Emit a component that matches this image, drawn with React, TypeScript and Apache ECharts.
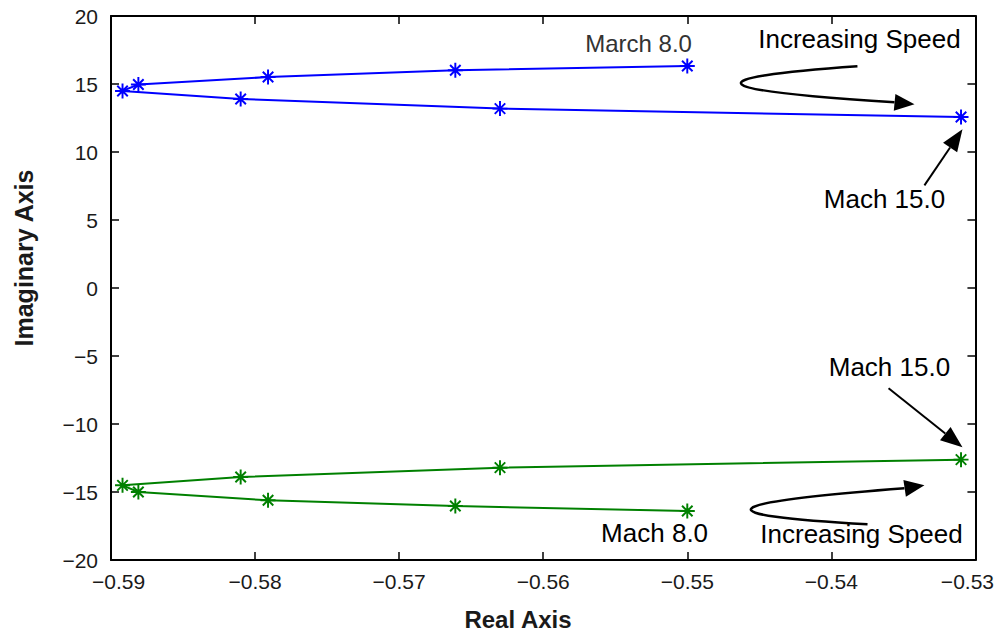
import React, { useEffect, useRef } from "react";
import * as echarts from "echarts";

const FONT = '"Liberation Sans", Arial, Helvetica, sans-serif';

// Axis ranges / ticks
const X_MIN = -0.59;
const X_MAX = -0.53;
const X_STEP = 0.01;
const Y_MIN = -20;
const Y_MAX = 20;
const Y_STEP = 5;

// Root locus branches (real, imaginary), ordered Mach 8 -> Mach 15 (blue) and Mach 15 -> Mach 8 (green)
const blueReal = [-0.55, -0.5661, -0.5791, -0.5881, -0.5892, -0.581, -0.563, -0.531];
const blueImag = [16.32, 16.01, 15.51, 14.96, 14.49, 13.9, 13.19, 12.57];
const greenReal = [-0.531, -0.563, -0.581, -0.5892, -0.5881, -0.5791, -0.5661, -0.55];
const greenImag = [-12.62, -13.21, -13.9, -14.51, -15.0, -15.61, -16.03, -16.4];

// Annotation texts (data coordinates of their centres)
const annTexts: { text: string; at: [number, number]; size: number; color: string }[] = [
  { text: "March 8.0", at: [-0.55338, 17.95], size: 24, color: "#333333" },
  { text: "Increasing Speed", at: [-0.53805, 18.3], size: 26, color: "#000000" },
  { text: "Mach 15.0", at: [-0.53631, 6.55], size: 26, color: "#000000" },
  { text: "Mach 15.0", at: [-0.53597, -5.8], size: 26, color: "#000000" },
  { text: "Mach 8.0", at: [-0.55227, -18.0], size: 26, color: "#000000" },
  { text: "Increasing Speed", at: [-0.53791, -18.08], size: 26, color: "#000000" },
];

// Straight arrows: tail -> tip (data coordinates)
const straightArrows: { tail: [number, number]; tip: [number, number] }[] = [
  { tail: [-0.53354, 7.55], tip: [-0.5309, 11.67] },
  { tail: [-0.53603, -7.37], tip: [-0.5309, -11.71] },
];

// Curved arrows: start, leftmost turn, shaft end, tip (data coordinates)
const curvedArrows: { start: [number, number]; turn: [number, number]; end: [number, number]; tip: [number, number] }[] = [
  { start: [-0.53819, 16.3], turn: [-0.54623, 14.98], end: [-0.53562, 13.65], tip: [-0.53423, 13.51] },
  { start: [-0.53749, -17.38], turn: [-0.54554, -16.2], end: [-0.53493, -14.73], tip: [-0.53354, -14.51] },
];

const STAR =
  "path://M43.5 0L56.5 0L56.5 100L43.5 100Z M0 43.5L100 43.5L100 56.5L0 56.5Z " +
  "M10.4 19.6L19.6 10.4L89.6 80.4L80.4 89.6Z M80.4 10.4L89.6 19.6L19.6 89.6L10.4 80.4Z";

const signed = (v: number, d: number) => (v < -1e-12 ? "\u2212" : "") + Math.abs(v).toFixed(d);

export default function App() {
  const ref = useRef<HTMLDivElement>(null);

  useEffect(() => {
    if (!ref.current) return;
    const chart = echarts.init(ref.current, null, { renderer: "svg" });
    const labelStyle = { fontSize: 21, fontFamily: FONT, color: "#1a1a1a" };
    const axisCommon = {
      axisLine: { show: true, onZero: false, lineStyle: { color: "#000", width: 2 } },
      axisTick: { show: true, inside: true, length: 8, lineStyle: { color: "#000", width: 1.5 } },
      splitLine: { show: false },
    };
    const option: any = {
      animation: false,
      backgroundColor: "#ffffff",
      grid: { left: 111, right: 21, top: 16, bottom: 73, containLabel: false },
      xAxis: [
        {
          type: "value",
          min: X_MIN,
          max: X_MAX,
          interval: X_STEP,
          position: "bottom",
          ...axisCommon,
          axisLabel: {
            ...labelStyle,
            margin: 11,
            showMinLabel: true,
            showMaxLabel: true,
            formatter: (v: number) => {
              const s = signed(v, 2);
              if (Math.abs(v - X_MIN) < 1e-9) return `{l|${s}}`;
              if (Math.abs(v - X_MAX) < 1e-9) return `{r|${s}}`;
              return s;
            },
            rich: {
              l: { ...labelStyle, padding: [0, 0, 0, 15] },
              r: { ...labelStyle, padding: [0, 16, 0, 0] },
            },
          },
        },
        {
          type: "value",
          min: X_MIN,
          max: X_MAX,
          interval: X_STEP,
          position: "top",
          ...axisCommon,
          axisLabel: { show: false },
        },
      ],
      yAxis: [
        {
          type: "value",
          min: Y_MIN,
          max: Y_MAX,
          interval: Y_STEP,
          position: "left",
          ...axisCommon,
          axisLabel: { ...labelStyle, margin: 13, formatter: (v: number) => signed(v, 0) },
        },
        {
          type: "value",
          min: Y_MIN,
          max: Y_MAX,
          interval: Y_STEP,
          position: "right",
          ...axisCommon,
          axisLabel: { show: false },
        },
      ],
      series: [
        {
          type: "line",
          data: blueReal.map((x, i) => [x, blueImag[i]]),
          lineStyle: { color: "#0000ff", width: 2 },
          itemStyle: { color: "#0000ff" },
          symbol: STAR,
          symbolSize: 15,
          showAllSymbol: true,
          clip: false,
          z: 3,
        },
        {
          type: "line",
          data: greenReal.map((x, i) => [x, greenImag[i]]),
          lineStyle: { color: "#008000", width: 2 },
          itemStyle: { color: "#008000" },
          symbol: STAR,
          symbolSize: 15,
          showAllSymbol: true,
          clip: false,
          z: 3,
        },
      ],
    };
    chart.setOption(option);

    const P = (p: [number, number]) => chart.convertToPixel({ seriesIndex: 0 }, p) as number[];
    const els: any[] = [];

    const head = (from: number[], tip: number[], len: number, hw: number) => {
      const dx = tip[0] - from[0];
      const dy = tip[1] - from[1];
      const n = Math.hypot(dx, dy) || 1;
      const ux = dx / n;
      const uy = dy / n;
      const bx = tip[0] - ux * len;
      const by = tip[1] - uy * len;
      const px = -uy;
      const py = ux;
      return {
        base: [bx, by],
        points: [
          [tip[0], tip[1]],
          [bx + px * hw, by + py * hw],
          [bx - px * hw, by - py * hw],
        ],
      };
    };

    straightArrows.forEach((a) => {
      const t0 = P(a.tail);
      const t1 = P(a.tip);
      const h = head(t0, t1, 22, 8.5);
      els.push({
        type: "line",
        shape: { x1: t0[0], y1: t0[1], x2: h.base[0], y2: h.base[1] },
        style: { stroke: "#000", lineWidth: 2 },
        z: 10,
      });
      els.push({ type: "polygon", shape: { points: h.points }, style: { fill: "#000" }, z: 10 });
    });

    curvedArrows.forEach((a) => {
      const s = P(a.start);
      const l = P(a.turn);
      const e = P(a.end);
      const t = P(a.tip);
      const cx = 2 * l[0] - 0.5 * (s[0] + e[0]);
      const cy = 2 * l[1] - 0.5 * (s[1] + e[1]);
      els.push({
        type: "bezierCurve",
        shape: { x1: s[0], y1: s[1], cpx1: cx, cpy1: cy, x2: e[0], y2: e[1] },
        style: { stroke: "#000", lineWidth: 2.5, fill: null },
        z: 10,
      });
      const h2 = head([2 * e[0] - t[0], 2 * e[1] - t[1]], t, 20, 8.5);
      els.push({ type: "polygon", shape: { points: h2.points }, style: { fill: "#000" }, z: 10 });
    });

    annTexts.forEach((a) => {
      const p = P(a.at);
      els.push({
        type: "text",
        x: p[0],
        y: p[1],
        style: {
          text: a.text,
          fontSize: a.size,
          fontFamily: FONT,
          fill: a.color,
          align: "center",
          verticalAlign: "middle",
          textAlign: "center",
          textVerticalAlign: "middle",
        },
        z: 11,
      });
    });

    // Axis titles
    els.push({
      type: "text",
      x: 518,
      y: 619,
      style: {
        text: "Real Axis",
        fontSize: 24,
        fontWeight: "bold",
        fontFamily: FONT,
        fill: "#1a1a1a",
        align: "center",
        verticalAlign: "middle",
        textAlign: "center",
        textVerticalAlign: "middle",
      },
    });
    els.push({
      type: "text",
      x: 24,
      y: 258,
      rotation: Math.PI / 2,
      style: {
        text: "Imaginary Axis",
        fontSize: 25,
        fontWeight: "bold",
        fontFamily: FONT,
        fill: "#1a1a1a",
        align: "center",
        verticalAlign: "middle",
        textAlign: "center",
        textVerticalAlign: "middle",
      },
    });

    chart.setOption({ graphic: els });
    return () => chart.dispose();
  }, []);

  return (
    <div
      ref={ref}
      style={{ position: "absolute", left: 0, top: 0, width: 997, height: 633, background: "#fff" }}
    />
  );
}
